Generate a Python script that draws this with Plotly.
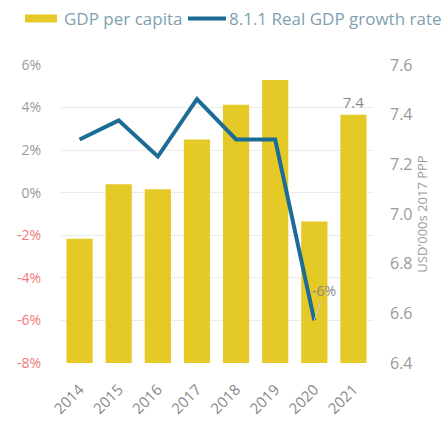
import plotly.graph_objects as go

years = ["2014", "2015", "2016", "2017", "2018", "2019", "2020", "2021"]
gdp_per_capita = [6.90, 7.12, 7.10, 7.30, 7.44, 7.54, 6.97, 7.40]   # USD'000s 2017 PPP
growth_rate = [2.5, 3.4, 1.7, 4.4, 2.5, 2.5, -6.0, None]            # %

pct_ticks = [-8, -6, -4, -2, 0, 2, 4, 6]
usd_ticks = [6.4, 6.6, 6.8, 7.0, 7.2, 7.4, 7.6]

YELLOW = "#E4C927"
BLUE = "#1C6C96"
TICK_GREY = "#9a9a9a"
LABEL_GREY = "#888888"
LEGEND_TEXT = "#7fa0b2"
RED = "#f07a7a"
FONT = "'Open Sans', sans-serif"

W, H = 441, 430
ML, MR, MT, MB = 60, 68, 65, 64
PW, PH = W - ML - MR, H - MT - MB


def px_to_paper(x, y):
    return (x - ML) / PW, (H - MB - y) / PH


def pct_label(v):
    txt = f"{v}%"
    if v < 0:
        return f"<span style='color:{RED}'>{txt}</span>"
    return txt


fig = go.Figure()

# GDP per capita bars on the right-hand axis (primary y)
fig.add_trace(go.Bar(
    x=years, y=gdp_per_capita, marker_color=YELLOW, marker_line_width=0,
    yaxis="y", showlegend=False,
    text=[None] * 7 + [f"{gdp_per_capita[-1]:.1f}"],
    textposition="outside", textfont=dict(color=LABEL_GREY, size=15, family=FONT),
    cliponaxis=False,
))

# Real GDP growth line on the left-hand percentage axis
fig.add_trace(go.Scatter(
    x=years, y=growth_rate, mode="lines", yaxis="y2",
    line=dict(color=BLUE, width=4), showlegend=False,
))

# value callout for the 2020 drop
i20 = years.index("2020")
fig.add_annotation(
    x=i20, y=growth_rate[i20], xref="x", yref="y2",
    text=f"{growth_rate[i20]:.0f}%", showarrow=True, arrowhead=0, arrowwidth=1,
    arrowcolor="#cccccc", ax=10, ay=-30,
    font=dict(color=LABEL_GREY, size=14, family=FONT),
)

# legend row across the top: swatch + label for each series
legend_items = [
    ("GDP per capita", YELLOW, 8, 25, 57, 62),
    ("8.1.1 Real GDP growth rate", BLUE, 4, 188, 226, 227),
]
for label, color, thick, x0, x1, tx in legend_items:
    px0, py = px_to_paper(x0, 18)
    px1, _ = px_to_paper(x1, 18)
    fig.add_shape(type="line", xref="paper", yref="paper", x0=px0, x1=px1, y0=py, y1=py,
                  line=dict(color=color, width=thick))
    ptx, _ = px_to_paper(tx, 18)
    fig.add_annotation(xref="paper", yref="paper", x=ptx, y=py, xanchor="left",
                       yanchor="middle", text=label, showarrow=False,
                       font=dict(color=LEGEND_TEXT, size=17, family=FONT))

fig.update_layout(
    width=W, height=H,
    margin=dict(l=ML, r=MR, t=MT, b=MB),
    paper_bgcolor="white", plot_bgcolor="white",
    font=dict(family=FONT, color=TICK_GREY, size=14),
    bargap=0.33,
    showlegend=False,
    xaxis=dict(type="category", categoryorder="array", categoryarray=years,
               range=[-0.5, 7.5], tickangle=-45, showgrid=False, showline=False,
               ticks="", ticklabelstandoff=14, tickfont=dict(color=LABEL_GREY, size=15)),
    yaxis=dict(side="right", range=[6.4, 7.6], tickvals=usd_ticks,
               ticktext=[f"{v:.1f}" for v in usd_ticks], showgrid=False,
               zeroline=False, ticklabelstandoff=16, tickfont=dict(size=16),
               title=dict(text="USD'000s 2017 PPP", font=dict(size=13, color=TICK_GREY), standoff=5)),
    yaxis2=dict(side="left", overlaying="y", range=[-8, 6], tickvals=pct_ticks,
                ticktext=[pct_label(v) for v in pct_ticks], showgrid=True,
                gridcolor="#ececec", gridwidth=1, zeroline=False, ticklabelstandoff=18,
                tickfont=dict(size=14)),
)

fig.write_html("out.html")
